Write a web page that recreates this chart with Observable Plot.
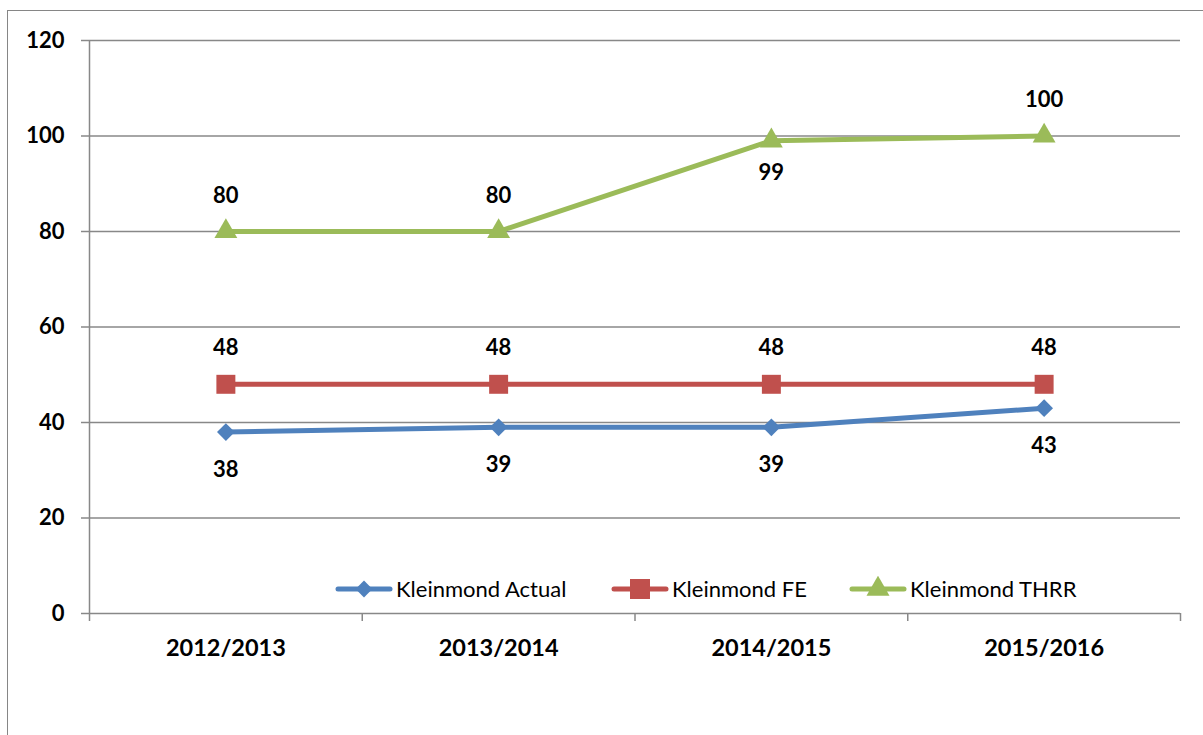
<!DOCTYPE html>
<html><head><meta charset="utf-8">
<script src="https://cdn.jsdelivr.net/npm/d3@7"></script>
<script src="https://cdn.jsdelivr.net/npm/@observablehq/plot@0.6"></script>
<style>
html,body{margin:0;padding:0;background:#fff;}
#wrap{position:relative;width:1203px;height:735px;overflow:hidden;font-family:Lato,"Open Sans",sans-serif;}
#frame{position:absolute;left:7px;top:10px;width:1300px;height:800px;border:1.5px solid #868686;box-sizing:border-box;}
#legend{position:absolute;top:0;left:0;width:1203px;height:735px;pointer-events:none;font-size:22px;color:#000;}
.item{position:absolute;top:575px;display:flex;align-items:center;white-space:nowrap;}
.item svg{display:block}
</style></head>
<body><div id="wrap"><div id="frame"></div><div id="chart"></div><div id="legend"></div></div>
<script>
const categories = ["2012/2013","2013/2014","2014/2015","2015/2016"];
const actual = [38,39,39,43];
const fe = [48,48,48,48];
const thrr = [80,80,99,100];
const yTicks = [0,20,40,60,80,100,120];
const seriesNames = ["Kleinmond Actual","Kleinmond FE","Kleinmond THRR"];
const colors = ["#4F81BD","#C0504D","#9BBB59"];
const symbols = ["diamond2","square","triangle"];
const labelBelow = {"Kleinmond Actual":[true,true,true,true],"Kleinmond FE":[false,false,false,false],"Kleinmond THRR":[false,false,true,false]};

const allSeries = [actual, fe, thrr];
const data = [];
seriesNames.forEach((s,si)=>{
  allSeries[si].forEach((v,i)=>data.push({series:s, cat:categories[i], x:i+0.5, y:v, below:labelBelow[s][i]}));
});
const boundaries = d3.range(0, categories.length+1);
const catData = categories.map((c,i)=>({c, x:i+0.5}));

const font = "Lato, 'Open Sans', sans-serif";
const gray = "#888888";
const sizes = {"Kleinmond Actual":8, "Kleinmond FE":10.7, "Kleinmond THRR":8.5};
const dotMarks = seriesNames.map((s,i)=>Plot.dot(data.filter(d=>d.series===s), {x:"x", y:"y", symbol:"series", fill:"series", stroke:null, r:sizes[s]}));
const above = data.filter(d=>!d.below);
const below = data.filter(d=>d.below);
const chart = Plot.plot({
  width:1203, height:735,
  marginLeft:89, marginRight:23, marginTop:40, marginBottom:122,
  style:{fontFamily:font, background:"transparent", overflow:"visible"},
  x:{domain:[0,categories.length], axis:null},
  y:{domain:[0,120], axis:null},
  color:{domain:seriesNames, range:colors},
  symbol:{domain:seriesNames, range:symbols},
  marks:[
    Plot.gridY(yTicks.filter(d=>d>0), {stroke:gray, strokeOpacity:1, strokeWidth:1.5}),
    Plot.ruleY([0], {stroke:gray, strokeWidth:1.5}),
    Plot.ruleX([0], {stroke:gray, strokeWidth:1.5}),
    Plot.axisY(yTicks, {anchor:"left", tickSize:8, tickPadding:17, stroke:gray, strokeWidth:1.5, strokeOpacity:1, fontSize:22, fontWeight:"bold", fill:"#000", label:null}),
    Plot.axisX(boundaries, {anchor:"bottom", tickSize:8, tickFormat:()=>"", stroke:gray, strokeWidth:1.5, strokeOpacity:1, label:null}),
    Plot.text(catData, {x:"x", y:0, text:"c", dy:35, fontSize:23.5, fontWeight:"bold", fill:"#000"}),
    Plot.line(data, {x:"x", y:"y", z:"series", stroke:"series", strokeWidth:5, strokeLinecap:"round", strokeLinejoin:"round"}),
    ...dotMarks,
    Plot.text(above, {x:"x", y:"y", text:d=>String(d.y), dy:-36, fontSize:22, fontWeight:"bold", fill:"#000"}),
    Plot.text(below.filter(d=>d.series!=="Kleinmond THRR"), {x:"x", y:"y", text:d=>String(d.y), dy:38, fontSize:22, fontWeight:"bold", fill:"#000"}),
    Plot.text(below.filter(d=>d.series==="Kleinmond THRR"), {x:"x", y:"y", text:d=>String(d.y), dy:32, fontSize:22, fontWeight:"bold", fill:"#000"})
  ]
});
document.getElementById("chart").appendChild(chart);

// legend
const leg = d3.select("#legend");
const lefts = [335, 611, 849];
seriesNames.forEach((name,i)=>{
  const it = leg.append("div").attr("class","item").style("left", lefts[i]+"px");
  const s = it.append("svg").attr("width",60).attr("height",26);
  s.append("line").attr("x1",3).attr("x2",55).attr("y1",13).attr("y2",13).attr("stroke",colors[i]).attr("stroke-width",5).attr("stroke-linecap","round");
  const sym = d3.symbol().type(i===0?d3.symbolDiamond2:(i===1?d3.symbolSquare:d3.symbolTriangle)).size(i===1?400:(i===0?180:230));
  s.append("path").attr("d", sym()).attr("transform","translate(29,13)").attr("fill",colors[i]);
  it.append("span").text(name).style("margin-left","1px");
});
</script></body></html>
